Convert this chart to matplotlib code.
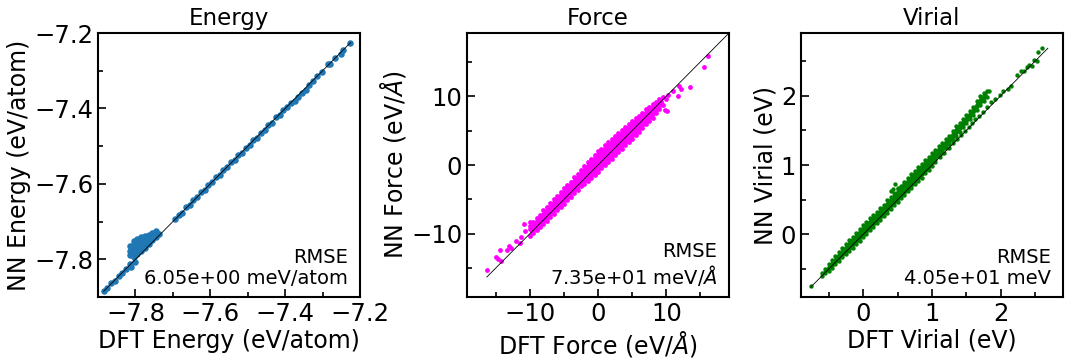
import matplotlib
matplotlib.use("Agg")
import matplotlib.pyplot as plt
from matplotlib.ticker import MultipleLocator

# ---- Energy (eV/atom) ----
energy_x = [-7.884, -7.875, -7.865, -7.855, -7.845, -7.835, -7.825, -7.815, -7.813, -7.800,
            -7.695, -7.685, -7.675, -7.665, -7.655, -7.645, -7.635, -7.625, -7.615, -7.605,
            -7.595, -7.585, -7.575, -7.565, -7.555, -7.545, -7.535, -7.525, -7.515, -7.505,
            -7.495, -7.485, -7.475, -7.465, -7.455, -7.445, -7.435, -7.425, -7.415, -7.405,
            -7.395, -7.385, -7.375, -7.365, -7.355, -7.345, -7.335, -7.325,
            -7.316, -7.301, -7.285, -7.279, -7.266, -7.252, -7.246, -7.228]
energy_y = [-7.883, -7.876, -7.864, -7.857, -7.844, -7.836, -7.826, -7.813, -7.820, -7.807,
            -7.694, -7.683, -7.676, -7.662, -7.656, -7.643, -7.636, -7.622, -7.616, -7.603,
            -7.596, -7.582, -7.576, -7.563, -7.556, -7.543, -7.537, -7.523, -7.517, -7.504,
            -7.497, -7.484, -7.478, -7.464, -7.457, -7.444, -7.438, -7.424, -7.418, -7.404,
            -7.397, -7.386, -7.379, -7.369, -7.360, -7.350, -7.338, -7.327,
            -7.315, -7.304, -7.283, -7.281, -7.266, -7.255, -7.245, -7.227]
# off-diagonal blob near -7.8
energy_blob_x = [-7.815, -7.815, -7.815,
                 -7.805, -7.805, -7.805, -7.805, -7.805,
                 -7.795, -7.795, -7.795, -7.795, -7.795,
                 -7.785, -7.785, -7.785, -7.785,
                 -7.775, -7.775, -7.775, -7.775,
                 -7.765, -7.765, -7.765,
                 -7.755, -7.755, -7.755,
                 -7.745, -7.745, -7.745,
                 -7.737]
energy_blob_y = [-7.789, -7.777, -7.765,
                 -7.795, -7.783, -7.771, -7.760, -7.752,
                 -7.787, -7.775, -7.763, -7.752, -7.745,
                 -7.778, -7.766, -7.754, -7.742,
                 -7.770, -7.758, -7.746, -7.737,
                 -7.760, -7.748, -7.736,
                 -7.750, -7.739, -7.729,
                 -7.742, -7.731, -7.726,
                 -7.734]
energy_rmse = "RMSE\n6.05e+00 meV/atom"

# ---- Force (eV/A) ----
force_x = [-10, -9.5, -9, -8.5, -8, -7.5, -7, -6.5, -6, -5.5, -5, -4.5, -4, -3.5, -3, -2.5,
           -2, -1.5, -1, -0.5, 0, 0.5, 1, 1.5, 2, 2.5, 3, 3.5, 4, 4.5, 5, 5.5, 6, 6.5, 7,
           7.5, 8, 8.5, 9, 9.5]
force_top = [-8.8, -8.3, -7.7, -7.2, -6.6, -6.1, -5.5, -5.0, -4.5, -3.9, -3.4, -2.9, -2.4,
             -1.8, -1.3, -0.7, -0.2, 0.4, 0.9, 1.5, 2.0, 2.4, 2.9, 3.3, 3.8, 4.2, 4.6, 5.1,
             5.5, 6.0, 6.4, 6.8, 7.2, 7.6, 8.1, 8.5, 8.9, 9.2, 9.6, 9.9]
force_bottom = [-10.3, -9.9, -9.4, -9.0, -8.6, -8.1, -7.6, -7.1, -6.6, -6.1, -5.6, -5.1, -4.6,
                -4.1, -3.6, -3.1, -2.7, -2.3, -1.9, -1.4, -1.0, -0.5, 0.0, 0.4, 0.9, 1.4,
                1.9, 2.4, 2.9, 3.3, 3.8, 4.3, 4.8, 5.4, 5.9, 6.4, 6.9, 7.5, 8.1, 8.8]
force_out_x = [16.1, 15.5, 13.5, 12.2, 11.9, 11.0, 10.3, 11.7, 10.0, 9.8, 10.1, 9.3,
               -16.25, -14.9, -14.6, -14.2, -14.4, -13.3, -13.1, -12.7, -12.0, -11.4,
               -10.9, -10.0, -10.7, -9.9, -11.3]
force_out_y = [15.9, 14.2, 11.4, 11.1, 11.5, 10.8, 10.2, 10.0, 9.6, 8.0, 7.9, 9.1,
               -15.2, -13.4, -13.7, -13.9, -12.3, -12.4, -11.8, -12.0, -11.0, -11.4,
               -8.6, -8.25, -9.6, -9.3, -10.4]
force_rmse = "RMSE\n7.35e+01 meV/$\\AA$"

# ---- Virial (eV) ----
virial_x = [-0.60, -0.55, -0.50, -0.45, -0.40, -0.35, -0.30, -0.25, -0.20, -0.15, -0.10,
            -0.05, 0.00, 0.05, 0.10, 0.15, 0.20, 0.25, 0.30, 0.35, 0.40, 0.45, 0.50, 0.55,
            0.60, 0.65, 0.70, 0.75, 0.80, 0.85, 0.90, 0.95, 1.00, 1.05, 1.10, 1.15, 1.20,
            1.25, 1.30, 1.35, 1.40, 1.45, 1.50, 1.55, 1.60, 1.65, 1.70, 1.75, 1.80]
virial_top = [-0.55, -0.49, -0.43, -0.37, -0.31, -0.25, -0.20, -0.14, -0.08, -0.03, 0.02,
              0.08, 0.13, 0.18, 0.23, 0.28, 0.33, 0.38, 0.43, 0.49, 0.54, 0.60, 0.65, 0.70,
              0.76, 0.81, 0.87, 0.92, 0.97, 1.02, 1.07, 1.12, 1.17, 1.22, 1.27, 1.32, 1.37,
              1.42, 1.49, 1.56, 1.61, 1.66, 1.72, 1.78, 1.84, 1.92, 1.99, 2.03, 2.06]
virial_bottom = [-0.60, -0.56, -0.52, -0.48, -0.43, -0.38, -0.33, -0.28, -0.24, -0.19, -0.14,
                 -0.09, -0.04, 0.01, 0.06, 0.11, 0.16, 0.21, 0.26, 0.31, 0.37, 0.42, 0.47,
                 0.52, 0.57, 0.62, 0.67, 0.72, 0.77, 0.82, 0.88, 0.93, 0.98, 1.08, 1.13,
                 1.18, 1.24, 1.30, 1.36, 1.42, 1.48, 1.54, 1.60, 1.66, 1.72, 1.79, 1.86,
                 1.92, 1.98]
# points hugging the diagonal above 1 eV, plus stray points
virial_line_x = [1.05, 1.12, 1.18, 1.25, 1.30, 1.36, 1.42, 1.48, 1.53, 1.58, 1.63, 1.68,
                 1.74, 1.80, 1.86, 1.92, 1.98, 2.03, 2.10, 2.15, 2.23, 2.29, 2.33, 2.38,
                 2.41, 2.45, 2.48, 2.52, 2.54, 2.60, 1.83,
                 -0.755, 0.41, 0.43, 0.46, 0.50, 0.55, 0.60]
virial_line_y = [1.05, 1.12, 1.17, 1.25, 1.31, 1.37, 1.43, 1.49, 1.55, 1.60, 1.66, 1.71,
                 1.77, 1.84, 1.90, 1.95, 2.01, 2.06, 2.10, 2.14, 2.30, 2.36, 2.35, 2.41,
                 2.44, 2.43, 2.51, 2.50, 2.62, 2.69, 2.07,
                 -0.74, 0.62, 0.65, 0.73, 0.67, 0.69, 0.72]
virial_rmse = "RMSE\n4.05e+01 meV"


def style_axis(ax, major, lims):
    ax.set_xlim(lims)
    ax.set_ylim(lims)
    ax.xaxis.set_major_locator(MultipleLocator(major))
    ax.yaxis.set_major_locator(MultipleLocator(major))
    ax.xaxis.set_minor_locator(MultipleLocator(major / 2))
    ax.yaxis.set_minor_locator(MultipleLocator(major / 2))
    ax.tick_params(which='both', direction='in', top=False, right=False,
                   labelsize=17.5, width=1.2)
    ax.tick_params(which='major', length=6)
    ax.tick_params(which='minor', length=3.5)
    for s in ax.spines.values():
        s.set_linewidth(1.5)


def decorate(ax, title, xlab, ylab, rmse):
    ax.set_title(title, fontsize=16.5)
    ax.set_xlabel(xlab, fontsize=17, labelpad=2)
    ax.set_ylabel(ylab, fontsize=17, labelpad=2)
    ax.text(0.955, 0.035, rmse, transform=ax.transAxes, ha='right', va='bottom',
            fontsize=14, multialignment='right', linespacing=1.1)


fig = plt.figure(figsize=(10.68, 3.6), dpi=100)
w, h, b = 0.2453, 0.7333, 0.175

# Energy
ax1 = fig.add_axes([0.0918, b, w, h])
ax1.scatter(energy_x, energy_y, s=22, color='#1f77b4', linewidths=0)
ax1.scatter(energy_blob_x, energy_blob_y, s=22, color='#1f77b4', linewidths=0)
ax1.plot([-7.885, -7.225], [-7.885, -7.225], color='black', lw=0.6)
style_axis(ax1, 0.2, (-7.9, -7.2))
decorate(ax1, 'Energy', 'DFT Energy (eV/atom)', 'NN Energy (eV/atom)', energy_rmse)

# Force: dense band between the read edges, edge points and outliers as dots
ax2 = fig.add_axes([0.4373, b, w, h])
ax2.fill_between(force_x, force_bottom, force_top, color='magenta', lw=0)
ax2.scatter(force_x, force_top, s=12, color='magenta', linewidths=0)
ax2.scatter(force_x, force_bottom, s=12, color='magenta', linewidths=0)
ax2.scatter(force_out_x, force_out_y, s=12, color='magenta', linewidths=0)
ax2.plot([-16.3, 19.0], [-16.3, 19.0], color='black', lw=0.6)
style_axis(ax2, 10, (-19.2, 19.2))
decorate(ax2, 'Force', 'DFT Force (eV/$\\AA$)', 'NN Force (eV/$\\AA$)', force_rmse)

# Virial
ax3 = fig.add_axes([0.75, b, w, h])
ax3.fill_between(virial_x, virial_bottom, virial_top, color='green', lw=0)
ax3.scatter(virial_x, virial_top, s=10, color='green', linewidths=0)
ax3.scatter(virial_x, virial_bottom, s=10, color='green', linewidths=0)
ax3.scatter(virial_line_x, virial_line_y, s=10, color='green', linewidths=0)
ax3.plot([-0.76, 2.68], [-0.76, 2.68], color='black', lw=0.6)
style_axis(ax3, 1, (-0.9, 2.9))
decorate(ax3, 'Virial', 'DFT Virial (eV)', 'NN Virial (eV)', virial_rmse)

fig.savefig('out.png', dpi=100)
